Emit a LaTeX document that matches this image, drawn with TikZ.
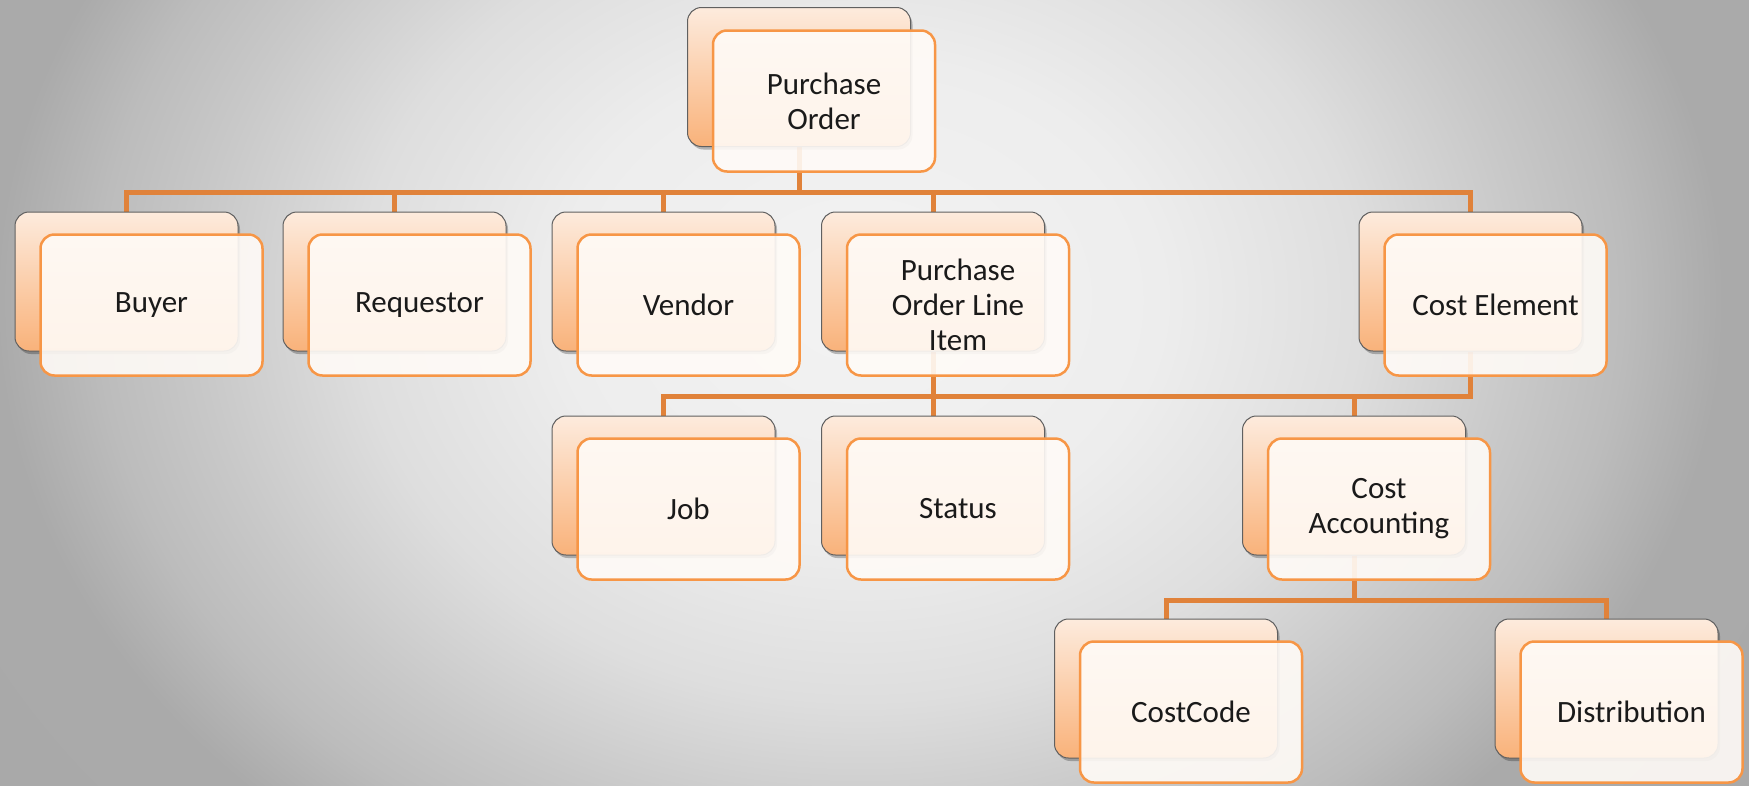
\documentclass[tikz,border=0pt]{standalone}
\usepackage{fontspec}
\setmainfont{Carlito}
\usetikzlibrary{shadows}
\definecolor{lineor}{HTML}{E0823A}
\definecolor{boxor}{HTML}{F79646}
\definecolor{bktop}{HTML}{FDEBDD}
\definecolor{bkbot}{HTML}{F9B27A}
\definecolor{frontfill}{HTML}{FFFBF7}
\definecolor{txt}{HTML}{1A1A1A}
\pgfdeclareradialshading{bgshade}{\pgfpoint{0bp}{0bp}}{%
rgb(0bp)=(0.953,0.953,0.953);
rgb(15bp)=(0.93,0.93,0.93);
rgb(25bp)=(0.87,0.87,0.87);
rgb(33bp)=(0.785,0.785,0.785);
rgb(38bp)=(0.737,0.737,0.737);
rgb(43bp)=(0.667,0.667,0.667);
rgb(60bp)=(0.66,0.66,0.66);
rgb(75bp)=(0.66,0.66,0.66)}
\pgfdeclarelayer{bglayer}
\pgfdeclarelayer{connlayer}
\pgfsetlayers{bglayer,connlayer,main}
\begin{document}
\begin{tikzpicture}[x=1pt,y=-1pt,
  backbox/.style={rectangle, rounded corners=14pt, minimum width=223pt, minimum height=139pt,
    inner sep=0pt, top color=bktop, bottom color=bkbot, draw=gray!75!black, line width=1pt,
    drop shadow={shadow xshift=2pt, shadow yshift=-3pt, fill=black, opacity=0.25}},
  frontbox/.style={rectangle, rounded corners=14pt, minimum width=222pt, minimum height=141pt,
    inner sep=0pt, fill=frontfill, fill opacity=0.9, text opacity=1, draw=boxor, draw opacity=1,
    line width=2.5pt, align=center, text=txt, font=\fontsize{31}{35}\selectfont},
  conn/.style={draw=lineor, line width=5pt}]
\useasboundingbox (0,0) rectangle (1749,785);
\begin{pgfonlayer}{bglayer}
  \clip (0,0) rectangle (1749,785);
  \begin{scope}[shift={(860,300)}, xscale=20, yscale=16]
    \node[transform shape, inner sep=0pt, outer sep=0pt] (bg) at (0,0) {\pgfuseshading{bgshade}};
  \end{scope}
\end{pgfonlayer}

% back boxes
\node[backbox] (pob)  at (799,77) {};
\node[backbox] (buyb) at (126.5,281.5) {};
\node[backbox] (reqb) at (394.5,281.5) {};
\node[backbox] (venb) at (663.5,281.5) {};
\node[backbox] (polb) at (933,281.5) {};
\node[backbox] (celb) at (1470.5,281.5) {};
\node[backbox] (jobb) at (663.5,485.5) {};
\node[backbox] (stab) at (933,485.5) {};
\node[backbox] (cacb) at (1354,485.5) {};
\node[backbox] (ccb)  at (1166,688.5) {};
\node[backbox] (disb) at (1606.5,688.5) {};

% front boxes
\node[frontbox] (po)  at (824,101) {Purchase\\Order};
\node[frontbox] (buy) at (151.5,305) {Buyer};
\node[frontbox] (req) at (419.5,305) {Requestor};
\node[frontbox] (ven) at (688.5,305) {Vendor};
\node[frontbox] (pol) at (958,305) {Purchase\\Order Line\\Item};
\node[frontbox] (cel) at (1495.5,305) {Cost Element};
\node[frontbox] (job) at (688.5,509) {Job};
\node[frontbox] (sta) at (958,509) {Status};
\node[frontbox] (cac) at (1379,509) {Cost\\Accounting};
\node[frontbox] (cc)  at (1191,712) {CostCode};
\node[frontbox] (dis) at (1631.5,712) {Distribution};

\begin{pgfonlayer}{connlayer}
  \coordinate (bar1) at (0,192);
  \coordinate (bar2) at (0,396);
  \coordinate (bar3) at (0,600);
  \draw[conn] (pob.south) -- (pob |- bar1);
  \draw[conn] (buyb.north) -- (buyb |- bar1) -- (celb |- bar1) -- (celb.north);
  \draw[conn] (reqb.north) -- (reqb |- bar1);
  \draw[conn] (venb.north) -- (venb |- bar1);
  \draw[conn] (polb.north) -- (polb |- bar1);
  \draw[conn] (polb.south) -- (polb |- bar2);
  \draw[conn] (jobb.north) -- (jobb |- bar2) -- (celb |- bar2) -- (celb.south);
  \draw[conn] (stab.north) -- (stab |- bar2);
  \draw[conn] (cacb.north) -- (cacb |- bar2);
  \draw[conn] (cacb.south) -- (cacb |- bar3);
  \draw[conn] (ccb.north) -- (ccb |- bar3) -- (disb |- bar3) -- (disb.north);
\end{pgfonlayer}
\end{tikzpicture}
\end{document}
